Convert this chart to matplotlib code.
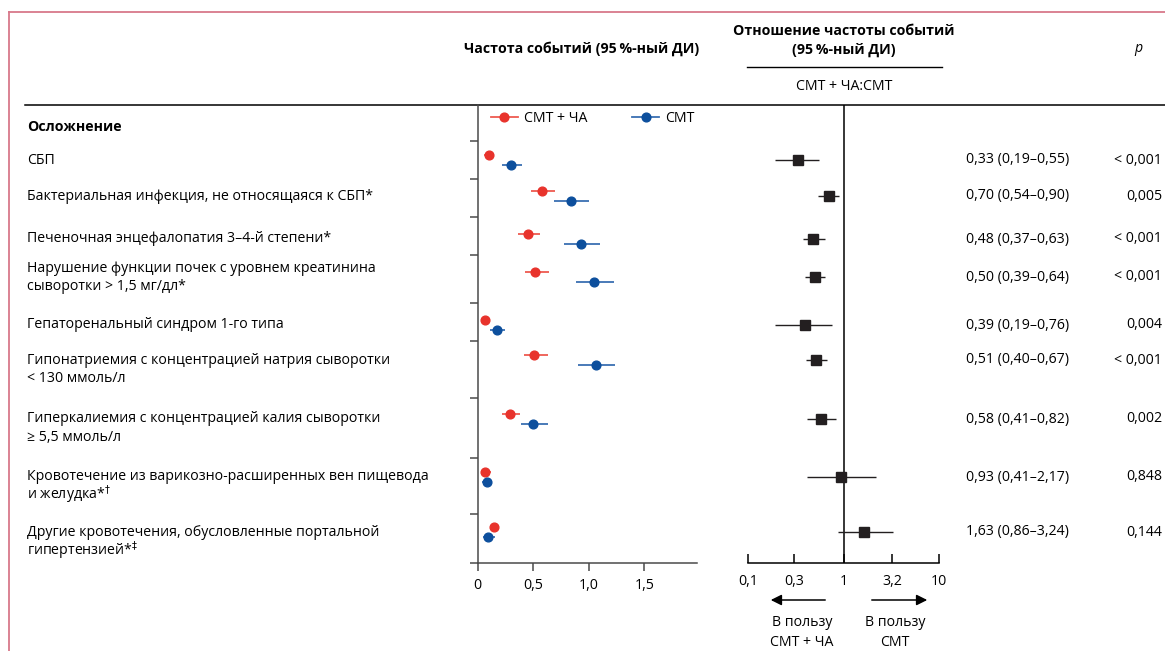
import numpy as np
import matplotlib.pyplot as plt
from matplotlib.lines import Line2D

plt.rcParams['font.family'] = ['Open Sans', 'DejaVu Sans']

W, H = 1165, 651

# --- data ---
labels = [
    'СБП',
    'Бактериальная инфекция, не относящаяся к СБП*',
    'Печеночная энцефалопатия 3–4-й степени*',
    'Нарушение функции почек с уровнем креатинина\nсыворотки > 1,5 мг/дл*',
    'Гепаторенальный синдром 1-го типа',
    'Гипонатриемия с концентрацией натрия сыворотки\n< 130 ммоль/л',
    'Гиперкалиемия с концентрацией калия сыворотки\n≥ 5,5 ммоль/л',
    'Кровотечение из варикозно-расширенных вен пищевода\nи желудка*$^{\\dagger}$',
    'Другие кровотечения, обусловленные портальной\nгипертензией*$^{\\ddagger}$',
]

# event rate, СМТ + ЧА
rate_ca = [0.10, 0.58, 0.45, 0.52, 0.065, 0.51, 0.29, 0.07, 0.15]
rate_ca_lo = [0.06, 0.48, 0.36, 0.43, 0.03, 0.42, 0.22, 0.03, 0.13]
rate_ca_hi = [0.15, 0.70, 0.56, 0.64, 0.11, 0.63, 0.38, 0.12, 0.18]
# event rate, СМТ
rate_smt = [0.30, 0.84, 0.93, 1.045, 0.17, 1.07, 0.50, 0.08, 0.09]
rate_smt_lo = [0.22, 0.69, 0.78, 0.89, 0.11, 0.90, 0.39, 0.04, 0.05]
rate_smt_hi = [0.40, 1.00, 1.10, 1.23, 0.25, 1.24, 0.63, 0.13, 0.16]

# rate ratio СМТ + ЧА : СМТ
rr = [0.33, 0.70, 0.48, 0.50, 0.39, 0.51, 0.58, 0.93, 1.63]
rr_lo = [0.19, 0.54, 0.37, 0.39, 0.19, 0.40, 0.41, 0.41, 0.86]
rr_hi = [0.55, 0.90, 0.63, 0.64, 0.76, 0.67, 0.82, 2.17, 3.24]
p_values = ['< 0,001', '0,005', '< 0,001', '< 0,001', '0,004',
            '< 0,001', '0,002', '0,848', '0,144']

rate_ticks = [0, 0.5, 1.0, 1.5]
rate_ticklabels = ['0', '0,5', '1,0', '1,5']
rr_ticks = [0.1, 0.3, 1, 3.2, 10]
rr_ticklabels = ['0,1', '0,3', '1', '3,2', '10']

# --- layout (pixel rows) ---
row_y = np.array([160, 196, 239, 277, 325, 360, 419, 477, 532])
label_y = [161, 197, 238, 268, 324, 360, 419, 476, 532]
sep_y = [141, 179, 217, 255, 303, 341, 398, 458, 514, 563]
top_y, bot_y = 105, 563

RED, RED_CI = '#e8332c', '#ee5a50'
BLUE, BLUE_CI = '#0d4f9d', '#3a6fb2'
FS = 10.2

fig = plt.figure(figsize=(W / 100, H / 100), dpi=100)
bg = fig.add_axes([0, 0, 1, 1], zorder=0)
bg.set_xlim(0, W)
bg.set_ylim(H, 0)
bg.axis('off')

# frame and header rule
bg.plot([9, W], [12, 12], color='#d8788a', lw=1.3)
bg.plot([9, 9], [12, H], color='#d8788a', lw=1.3)
bg.plot([25, W], [top_y, top_y], color='black', lw=1.1)

# headers
bg.text(582, 49, 'Частота событий (95\u2009%-ный ДИ)', ha='center', va='center',
        fontsize=FS, fontweight='bold')
bg.text(844, 31, 'Отношение частоты событий', ha='center', va='center',
        fontsize=FS, fontweight='bold')
bg.text(844, 50, '(95\u2009%-ный ДИ)', ha='center', va='center',
        fontsize=FS, fontweight='bold')
bg.plot([747, 942], [66.5, 66.5], color='black', lw=1)
bg.text(844, 86, 'СМТ + ЧА:СМТ', ha='center', va='center', fontsize=FS)
bg.text(1138, 49, 'p', ha='center', va='center', fontsize=FS, style='italic')

bg.text(27, 127, 'Осложнение', ha='left', va='center', fontsize=FS, fontweight='bold')
for lab, y in zip(labels, label_y):
    for i, line in enumerate(lab.split('\n')):
        bg.text(27, y + i * 18.5, line, ha='left', va='center', fontsize=FS)

for y, r, lo, hi, p in zip(row_y, rr, rr_lo, rr_hi, p_values):
    s = f'{r:.2f} ({lo:.2f}–{hi:.2f})'.replace('.', ',')
    bg.text(966, y, s, ha='left', va='center', fontsize=FS)
    bg.text(1162, y, p, ha='right', va='center', fontsize=FS)

# arrows under the ratio axis
bg.annotate('', xy=(768, 600), xytext=(828, 600),
            arrowprops=dict(arrowstyle='-|>', color='black', lw=1.1, mutation_scale=16))
bg.annotate('', xy=(930, 600), xytext=(869, 600),
            arrowprops=dict(arrowstyle='-|>', color='black', lw=1.1, mutation_scale=16))
bg.text(802, 623, 'В пользу', ha='center', va='center', fontsize=FS)
bg.text(802, 642, 'СМТ + ЧА', ha='center', va='center', fontsize=FS)
bg.text(895, 623, 'В пользу', ha='center', va='center', fontsize=FS)
bg.text(895, 642, 'СМТ', ha='center', va='center', fontsize=FS)

# --- left panel: event rates ---
x0, x1 = 477.7, 696.7
px_per_unit = 111.0
ax = fig.add_axes([x0 / W, 1 - bot_y / H, (x1 - x0) / W, (bot_y - top_y) / H], zorder=2)
ax.patch.set_alpha(0)
ax.set_xlim(0, (x1 - x0) / px_per_unit)
ax.set_ylim(bot_y, top_y)

ca = np.array(rate_ca)
smt = np.array(rate_smt)
ax.errorbar(ca, row_y - 5, xerr=[ca - np.array(rate_ca_lo), np.array(rate_ca_hi) - ca],
            fmt='none', ecolor=RED_CI, elinewidth=1.3, capsize=0, zorder=3)
ax.plot(ca, row_y - 5, 'o', color=RED, ms=6.3, zorder=4)
ax.errorbar(smt, row_y + 5, xerr=[smt - np.array(rate_smt_lo), np.array(rate_smt_hi) - smt],
            fmt='none', ecolor=BLUE_CI, elinewidth=1.3, capsize=0, zorder=3)
ax.plot(smt, row_y + 5, 'o', color=BLUE, ms=6.3, zorder=4)

for side in ['top', 'right']:
    ax.spines[side].set_visible(False)
for side in ['left', 'bottom']:
    ax.spines[side].set_color('#4a4a4a')
    ax.spines[side].set_linewidth(1.1)
ax.set_yticks(sep_y)
ax.set_yticklabels([])
ax.set_xticks(rate_ticks)
ax.set_xticklabels(rate_ticklabels, fontsize=FS)
ax.tick_params(axis='both', direction='out', length=6, width=1.1, color='#4a4a4a', pad=2)
ax.tick_params(axis='x', pad=4.5)

handles = [
    Line2D([], [], color=RED_CI, lw=1.3, marker='o', ms=6.3, mfc=RED, mec=RED),
    Line2D([], [], color=BLUE_CI, lw=1.3, marker='o', ms=6.3, mfc=BLUE, mec=BLUE),
]
fig.legend(handles, ['СМТ + ЧА', 'СМТ'], loc='center left',
           bbox_to_anchor=(491 / W, 1 - 118 / H), ncol=2, frameon=False,
           fontsize=FS, handlelength=1.9, handletextpad=0.4, columnspacing=3.2,
           borderpad=0, borderaxespad=0)

# --- right panel: rate ratios ---
f0, f1 = 748.3, 939.3
fx = fig.add_axes([f0 / W, 1 - bot_y / H, (f1 - f0) / W, (bot_y - top_y) / H], zorder=2)
fx.patch.set_alpha(0)
fx.set_xscale('log')
fx.set_xlim(0.1, 10)
fx.set_ylim(bot_y, top_y)
r = np.array(rr)
fx.errorbar(r, row_y, xerr=[r - np.array(rr_lo), np.array(rr_hi) - r],
            fmt='s', color='#231f20', ms=7, elinewidth=1.0, capsize=0, zorder=3)
fx.axvline(1, color='black', lw=1.1, zorder=2)
for side in ['top', 'right', 'left']:
    fx.spines[side].set_visible(False)
fx.spines['bottom'].set_linewidth(1.1)
fx.set_yticks([])
fx.set_xticks(rr_ticks)
fx.set_xticklabels(rr_ticklabels, fontsize=FS)
fx.minorticks_off()
fx.tick_params(axis='x', direction='in', length=6.5, width=1.1, pad=8)

fig.savefig('out.png', dpi=100)
